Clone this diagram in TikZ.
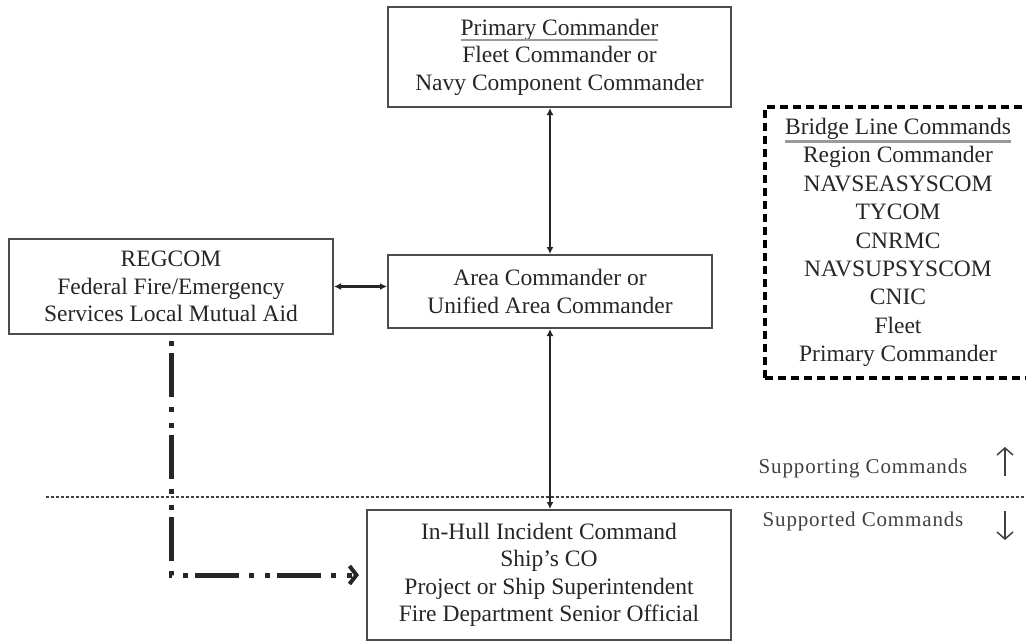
\documentclass[tikz,border=0pt]{standalone}
\usepackage{fontspec}
\setmainfont{Liberation Serif}
\usetikzlibrary{arrows.meta}

\newcommand\boxfont{\fontsize{23.5}{27.5}\selectfont}
\newcommand\sidefont{\addfontfeature{LetterSpace=4}\fontsize{21}{25}\selectfont}
\newcommand\headline[2][4pt]{\leavevmode\setbox0=\hbox{#2}\dp0=0pt\vtop{\box0\kern#1\color{black!40}\hrule height 2.5pt}}

\tikzset{
  cmdbox/.style={draw=black!70, line width=2pt, align=center, inner sep=0pt, text=black!85, font=\boxfont},
  bridgebox/.style={draw=black, line width=4pt, dash pattern=on 8pt off 5pt, align=center, inner sep=0pt, text=black!85, font=\fontsize{23.5}{28.4}\selectfont},
  linkarrow/.style={draw=black!85, line width=2.5pt, {Latex[length=7pt,width=7pt]}-{Latex[length=7pt,width=7pt]}},
  aidline/.style={draw=black!85, line width=5pt, dash pattern=on 5pt off 11pt on 5pt off 7pt on 44pt off 10pt, dash phase=16pt, -{Straight Barb[length=7pt,width=18pt,line width=4pt]}},
  splitline/.style={draw=black!75, line width=2.5pt, dash pattern=on 2.5pt off 2.5pt},
  sidearrow/.style={draw=black!75, line width=1.5pt, -{Straight Barb[length=7pt,width=16pt,line width=1.5pt]}}
}

\begin{document}
\begin{tikzpicture}[x=1pt,y=-1pt]
\useasboundingbox (0,0) rectangle (1026,643);

\node[cmdbox, minimum width=343pt, minimum height=100pt] (primary) at (559.5,57) {\headline[3.5pt]{Primary Commander}\\Fleet Commander or\\Navy Component Commander};
\node[cmdbox, minimum width=324pt, minimum height=73pt] (area) at (550,291.5) {Area Commander or\\Unified Area Commander};
\node[cmdbox, minimum width=324pt, minimum height=95pt] (regcom) at (171,286.5) {REGCOM\\Federal Fire/Emergency\\Services Local Mutual Aid};
\node[cmdbox, minimum width=364pt, minimum height=130pt] (inhull) at (549,575) {In-Hull Incident Command\\Ship's CO\\Project or Ship Superintendent\\Fire Department Senior Official};
\node[bridgebox, minimum width=266pt, minimum height=271pt] (bridge) at (898,242.5) {\headline[5.5pt]{Bridge Line Commands}\\Region Commander\\NAVSEASYSCOM\\TYCOM\\CNRMC\\NAVSUPSYSCOM\\CNIC\\Fleet\\Primary Commander};

\coordinate (splitL) at (46,497);
\coordinate (splitR) at (1026,497);
\path[splitline] (splitL) -- (splitR);

\path[linkarrow] (area.north) -- (area.north |- primary.south);
\path[linkarrow] (area.south) -- (area.south |- inhull.north);
\path[linkarrow] (regcom.east) -- (regcom.east -| area.west);
\path[aidline, shorten <=6pt, shorten >=7pt] (regcom.south) |- (inhull.west);

\node[text=black!75, font=\sidefont] (supporting) at (863,468) {Supporting Commands};
\node[text=black!75, font=\sidefont] (supported) at (863,521) {Supported Commands};
\coordinate (upA) at (1005,476);
\coordinate (upB) at (1005,447);
\coordinate (downA) at (1005,511);
\coordinate (downB) at (1005,540);
\path[sidearrow] (upA) -- (upB);
\path[sidearrow] (downA) -- (downB);
\end{tikzpicture}
\end{document}
